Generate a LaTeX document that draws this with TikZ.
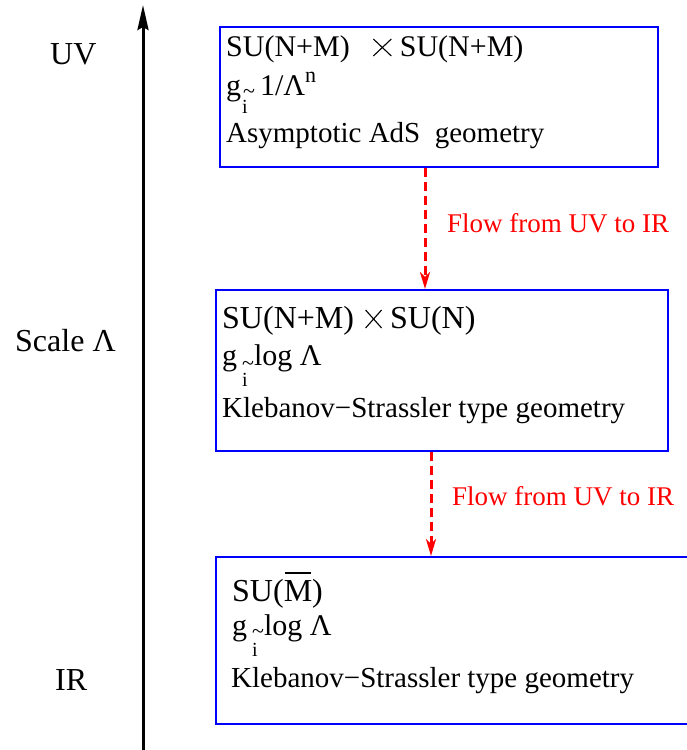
\documentclass[tikz,border=0pt]{standalone}
\usepackage{fontspec}
\setmainfont{Liberation Serif}
\usetikzlibrary{arrows.meta}
\newcommand{\fs}[1]{\fontsize{#1pt}{#1pt}\selectfont}
\newcommand{\crossX}[2]{\tikz[baseline=0pt,x=1pt,y=1pt]\draw[line width=1.1pt,black] (0,0)--(#1,#2) (0,#2)--(#1,0);}
\tikzset{
  box/.style={draw=blue, line width=2pt, inner sep=0pt, anchor=north west},
  txt/.style={anchor=base west, inner sep=0pt, font=\fs{29}},
  axislab/.style={anchor=base west, inner sep=0pt, font=\fs{32}},
  flowlab/.style={anchor=base west, inner sep=0pt, font=\fs{27}, text=red},
  flow/.style={draw=red, line width=3pt, dash pattern=on 9pt off 5pt,
    -{Stealth[length=17pt,width=10pt,inset=5pt,fill=red]}},
  axisline/.style={draw=black, line width=3pt,
    -{Stealth[length=25pt,width=11pt,inset=3pt]}}
}
\begin{document}
\begin{tikzpicture}[x=1pt,y=-1pt]
\useasboundingbox (0,0) rectangle (687,750);
\clip (0,0) rectangle (687,750);
% axis
\coordinate (axbot) at (143,755);
\coordinate (axtop) at (143,5);
\draw[axisline] (axbot) -- (axtop);
\node[axislab] (uv) at (50,64) {UV};
\node[axislab] (scale) at (15,351) {Scale Λ};
\node[axislab] (ir) at (55,690) {IR};
% boxes
\node[box, minimum width=438pt, minimum height=140pt] (b1) at (219,26) {};
\node[box, minimum width=452pt, minimum height=161pt] (b2) at (215,289) {};
\node[box, minimum width=505pt, minimum height=167pt] (b3) at (215,556) {};
% box 1 text
\node[txt, font=\fs{30}] (b1l1) at (226,56) {SU(N+M)\hspace{23pt}\crossX{18}{17}\hspace{8pt}SU(N+M)};
\node[txt, font=\fs{30}] (b1l2) at (226,95) {g\hspace{1pt}\rlap{\raisebox{-18pt}{\fs{20}i}}\hspace{1pt}\raisebox{-3pt}{\fs{22}\textasciitilde}\hspace{5pt}1/Λ\raisebox{13pt}{\fs{22}n}};
\node[txt] (b1l3) at (226,142) {Asymptotic AdS\ \ geometry};
% box 2 text
\node[txt, font=\fs{32}] (b2l1) at (222,328) {SU(N+M)\hspace{11pt}\crossX{16}{18}\hspace{8pt}SU(N)};
\node[txt, font=\fs{30}] (b2l2) at (222,365) {g\hspace{5pt}\rlap{\raisebox{-21pt}{\fs{20}i}}\hspace{0pt}\raisebox{-5pt}{\fs{22}\textasciitilde}log Λ};
\node[txt] (b2l3) at (222,417) {Klebanov−Strassler type geometry};
% box 3 text
\node[txt, font=\fs{32}] (b3l1) at (232,601) {SU(\rlap{\hspace{1pt}\rule[27pt]{26pt}{1.6pt}}M)};
\node[txt, font=\fs{30}] (b3l2) at (232,635) {g\hspace{5pt}\rlap{\raisebox{-21pt}{\fs{20}i}}\hspace{0pt}\raisebox{-3pt}{\fs{22}\textasciitilde}log Λ};
\node[txt] (b3l3) at (231,687) {Klebanov−Strassler type geometry};
% flows
\path (b1.south west) ++(206,0) coordinate (a1top);
\draw[flow] (a1top) -- (a1top |- b2.north);
\node[flowlab] (f1) at (447,232) {Flow from UV to IR};
\path (b2.south west) ++(216,0) coordinate (a2top);
\draw[flow] (a2top) -- (a2top |- b3.north);
\node[flowlab] (f2) at (452,505) {Flow from UV to IR};
\end{tikzpicture}
\end{document}
